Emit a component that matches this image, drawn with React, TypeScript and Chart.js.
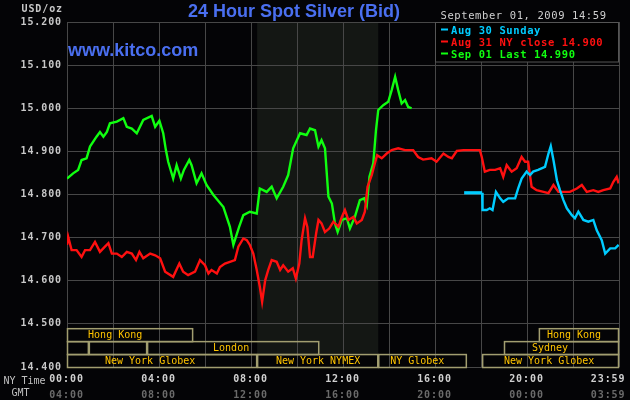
import React, { useEffect, useRef } from 'react';
import { Chart, registerables } from 'chart.js';

Chart.register(...registerables);

// ---- data (x in minutes after 00:00 NY time, y in USD/oz) ----
const SEP01_MIN = [0, 16, 29, 38, 51, 60, 77, 86, 95, 104, 112, 130, 147, 156, 169, 182, 199, 221, 230, 241, 251, 258, 264, 277, 286, 297, 305, 319, 325, 338, 351, 364, 382, 408, 425, 434, 449, 460, 477, 495, 503, 521, 534, 547, 564, 577, 590, 608, 625, 634, 647, 656, 664, 673, 682, 691, 699, 706, 717, 730, 738, 751, 764, 775, 782, 789, 799, 806, 812, 825, 838, 847, 856, 864, 873, 882, 890, 899];
const SEP01_VAL = [14.837, 14.849, 14.857, 14.880, 14.884, 14.911, 14.934, 14.945, 14.934, 14.945, 14.965, 14.969, 14.977, 14.957, 14.953, 14.942, 14.973, 14.982, 14.957, 14.971, 14.942, 14.903, 14.876, 14.837, 14.868, 14.837, 14.857, 14.880, 14.868, 14.826, 14.849, 14.822, 14.799, 14.771, 14.725, 14.683, 14.725, 14.752, 14.760, 14.756, 14.814, 14.806, 14.818, 14.791, 14.818, 14.845, 14.907, 14.942, 14.938, 14.953, 14.949, 14.911, 14.926, 14.907, 14.795, 14.779, 14.733, 14.713, 14.741, 14.745, 14.721, 14.748, 14.787, 14.791, 14.775, 14.841, 14.872, 14.949, 14.996, 15.007, 15.015, 15.042, 15.073, 15.042, 15.011, 15.019, 15.003, 15.000];

const AUG31_MIN = [0, 3, 12, 25, 38, 47, 60, 73, 86, 99, 108, 117, 130, 143, 156, 169, 180, 189, 199, 217, 230, 243, 256, 277, 293, 303, 316, 334, 347, 360, 369, 377, 391, 399, 412, 425, 438, 447, 460, 469, 477, 486, 495, 503, 509, 517, 525, 534, 547, 556, 564, 577, 589, 597, 606, 612, 621, 627, 634, 641, 650, 656, 664, 673, 684, 695, 708, 717, 725, 734, 747, 756, 769, 777, 784, 795, 803, 809, 821, 834, 847, 864, 882, 903, 916, 929, 951, 964, 982, 995, 1004, 1017, 1034, 1077, 1082, 1090, 1103, 1117, 1130, 1138, 1147, 1160, 1173, 1186, 1195, 1203, 1212, 1225, 1243, 1256, 1269, 1282, 1295, 1312, 1330, 1343, 1356, 1373, 1386, 1399, 1417, 1425, 1434, 1439];
const AUG31_VAL = [14.683, 14.702, 14.671, 14.671, 14.655, 14.671, 14.671, 14.690, 14.667, 14.679, 14.687, 14.663, 14.663, 14.655, 14.667, 14.663, 14.648, 14.667, 14.652, 14.663, 14.659, 14.652, 14.621, 14.609, 14.640, 14.621, 14.613, 14.621, 14.648, 14.636, 14.617, 14.625, 14.617, 14.632, 14.640, 14.644, 14.648, 14.679, 14.698, 14.694, 14.683, 14.663, 14.625, 14.586, 14.551, 14.601, 14.625, 14.648, 14.644, 14.625, 14.636, 14.621, 14.629, 14.605, 14.640, 14.694, 14.745, 14.725, 14.655, 14.655, 14.710, 14.741, 14.733, 14.713, 14.721, 14.737, 14.725, 14.748, 14.764, 14.741, 14.748, 14.733, 14.741, 14.760, 14.818, 14.845, 14.872, 14.891, 14.884, 14.895, 14.903, 14.907, 14.903, 14.903, 14.887, 14.881, 14.884, 14.876, 14.895, 14.887, 14.884, 14.901, 14.903, 14.903, 14.887, 14.853, 14.857, 14.857, 14.861, 14.841, 14.868, 14.853, 14.861, 14.887, 14.876, 14.876, 14.818, 14.810, 14.806, 14.803, 14.822, 14.806, 14.806, 14.806, 14.814, 14.822, 14.806, 14.810, 14.806, 14.810, 14.814, 14.829, 14.841, 14.826];

const AUG30_MIN = [1036, 1083, 1084, 1095, 1103, 1110, 1119, 1130, 1138, 1151, 1169, 1177, 1186, 1199, 1208, 1216, 1229, 1247, 1256, 1262, 1269, 1278, 1286, 1295, 1304, 1317, 1325, 1334, 1347, 1360, 1373, 1382, 1395, 1404, 1417, 1430, 1439];
const AUG30_VAL = [14.804, 14.804, 14.764, 14.764, 14.768, 14.764, 14.806, 14.791, 14.783, 14.791, 14.791, 14.814, 14.837, 14.853, 14.845, 14.853, 14.857, 14.864, 14.895, 14.912, 14.880, 14.833, 14.810, 14.787, 14.768, 14.752, 14.745, 14.760, 14.741, 14.737, 14.741, 14.717, 14.694, 14.663, 14.675, 14.675, 14.683];

const SERIES_LABELS = ['Aug 30 Sunday', 'Aug 31 NY close 14.900', 'Sep 01 Last 14.990'];
const SERIES_COLORS = ['#00ccff', '#ff1010', '#10ff10'];

const NY_TICK_LABELS = ['00:00', '04:00', '08:00', '12:00', '16:00', '20:00', '23:59'];
const GMT_TICK_LABELS = ['04:00', '08:00', '12:00', '16:00', '20:00', '00:00', '03:59'];

// market sessions
const SESSION_ROW = [0, 0, 1, 1, 1, 1, 2, 2, 2, 2];
const SESSION_START = [0, 1231, 0, 57, 209, 1140, 0, 496, 812, 1083];
const SESSION_END = [329, 1440, 57, 209, 658, 1440, 496, 812, 1043, 1440];
const SESSION_LABEL = ['Hong Kong', 'Hong Kong', '', '', 'London', 'Sydney', 'New York Globex', 'New York NYMEX', 'NY Globex', 'New York Globex'];
const SESSION_LABEL_AT = [55, 1252, 0, 0, 381, 1213, 99, 545, 843, 1140];
const NYMEX_PIT = [496, 812];

const MONO = '"DejaVu Sans Mono", monospace';
const BG = '#040406';
const GRID = '#474747';

const pts = (xs: number[], ys: number[]) => xs.map((x, i) => ({ x, y: ys[i] }));

const furniture = {
  id: 'furniture',
  beforeDraw(chart: any) {
    const { ctx, chartArea: a, scales } = chart;
    const x = scales.x;
    ctx.save();
    ctx.fillStyle = BG;
    ctx.fillRect(0, 0, chart.width, chart.height);
    const rowH = (a.bottom - a.top) * 0.0375;
    const row3Top = a.bottom - rowH;
    const x0 = x.getPixelForValue(NYMEX_PIT[0]);
    const x1 = x.getPixelForValue(NYMEX_PIT[1]);
    ctx.fillStyle = '#141714';
    ctx.fillRect(x0, a.top, x1 - x0, row3Top - a.top);
    ctx.restore();
    // wide bitmap-like look for the axis tick labels
    (ctx as any).letterSpacing = '0.9px';
  },
  afterDatasetsDraw(chart: any) {
    const { ctx, chartArea: a, scales } = chart;
    const x = scales.x;
    ctx.save();
    const rowH = (a.bottom - a.top) * 0.0375;
    ctx.strokeStyle = '#a29e70';
    ctx.lineWidth = 1.5;
    (ctx as any).letterSpacing = '0px';
    ctx.font = `10px ${MONO}`;
    ctx.textBaseline = 'alphabetic';
    ctx.textAlign = 'left';
    for (let i = 0; i < SESSION_ROW.length; i++) {
      const top = a.bottom - (3 - SESSION_ROW[i]) * rowH;
      const sx = x.getPixelForValue(SESSION_START[i]);
      const ex = x.getPixelForValue(SESSION_END[i]);
      ctx.strokeRect(sx + 0.5, top + 0.5, ex - sx - 1, rowH);
    }
    ctx.fillStyle = '#ffc400';
    for (let i = 0; i < SESSION_ROW.length; i++) {
      if (!SESSION_LABEL[i]) continue;
      const top = a.bottom - (3 - SESSION_ROW[i]) * rowH;
      ctx.fillText(SESSION_LABEL[i], x.getPixelForValue(SESSION_LABEL_AT[i]), top + rowH - 3.5);
    }
    // legend box
    const lx = x.getPixelForValue(960);
    ctx.fillStyle = '#000';
    ctx.fillRect(lx, a.top, a.right - lx, 40);
    ctx.strokeStyle = '#555';
    ctx.lineWidth = 1;
    ctx.strokeRect(lx + 0.5, a.top + 0.5, a.right - lx - 1, 39.5);
    (ctx as any).letterSpacing = '0.6px';
    ctx.font = `bold 10.5px ${MONO}`;
    chart.data.datasets.forEach((ds: any, i: number) => {
      ctx.fillStyle = ds.borderColor;
      const by = a.top + 11.5 + i * 12;
      ctx.fillRect(lx + 6, by - 5, 7, 2);
      ctx.fillText(ds.label, lx + 16, by);
    });
    ctx.restore();
  },
  afterDraw(chart: any) {
    const { ctx, chartArea: a } = chart;
    ctx.save();
    (ctx as any).letterSpacing = '0px';
    ctx.textBaseline = 'alphabetic';
    ctx.fillStyle = '#4a6ff0';
    ctx.font = 'bold 18px "Liberation Sans", Arial, sans-serif';
    ctx.textAlign = 'center';
    ctx.fillText('24 Hour Spot Silver (Bid)', 294, 16.5);
    ctx.textAlign = 'left';
    ctx.fillText('www.kitco.com', a.left + 1, 56);
    (ctx as any).letterSpacing = '0.6px';
    ctx.fillStyle = '#d0d0d0';
    ctx.font = `10.5px ${MONO}`;
    ctx.fillText('September 01, 2009 14:59', 440.5, 18.5);
    (ctx as any).letterSpacing = '0.9px';
    ctx.textAlign = 'right';
    ctx.font = `bold 10px ${MONO}`;
    ctx.fillStyle = '#c8c8c8';
    ctx.fillText('USD/oz', a.left - 4, 12);
    ctx.textAlign = 'left';
    (ctx as any).letterSpacing = '0px';
    ctx.font = `10px ${MONO}`;
    ctx.fillStyle = '#c0c0c0';
    ctx.fillText('NY Time', 3.5, 383.5);
    ctx.fillText('GMT', 11.5, 396);
    ctx.restore();
  },
};

export default function App() {
  const ref = useRef<HTMLCanvasElement>(null);
  useEffect(() => {
    document.body.style.margin = '0';
    document.body.style.background = '#000';
    const canvas = ref.current as HTMLCanvasElement;
    const xTick = (labels: string[]) => (v: any) => {
      const n = Number(v);
      if (n % 240 !== 0) return '';
      const k = n / 240;
      return k === 6 ? labels[k] + '   ' : labels[k];
    };
    const tickFont = { family: MONO, size: 10, weight: 'bold' };
    const chart = new Chart(canvas, {
      type: 'line',
      data: {
        datasets: [
          {
            label: SERIES_LABELS[0],
            data: pts(AUG30_MIN, AUG30_VAL),
            borderColor: SERIES_COLORS[0],
            borderWidth: 2.4,
            pointRadius: 0,
            segment: { borderWidth: (c: any) => (c.p0DataIndex === 0 ? 3.2 : 2.4) },
          },
          {
            label: SERIES_LABELS[1],
            data: pts(AUG31_MIN, AUG31_VAL),
            borderColor: SERIES_COLORS[1],
            borderWidth: 2.4,
            pointRadius: 0,
          },
          {
            label: SERIES_LABELS[2],
            data: pts(SEP01_MIN, SEP01_VAL),
            borderColor: SERIES_COLORS[2],
            borderWidth: 2.4,
            pointRadius: 0,
          },
        ],
      },
      options: {
        animation: false,
        responsive: false,
        events: [],
        layout: { padding: { top: 22, right: 11, left: 0, bottom: 0 } },
        plugins: { legend: { display: false }, tooltip: { enabled: false } },
        scales: {
          x: {
            type: 'linear',
            position: 'bottom',
            weight: 0,
            min: 0,
            max: 1440,
            grid: { color: GRID, lineWidth: 1, drawTicks: false },
            border: { display: false },
            ticks: {
              stepSize: 120,
              autoSkip: false,
              maxRotation: 0,
              padding: 6,
              labelOffset: -0.5,
              color: '#d0d0d0',
              font: tickFont,
              callback: xTick(NY_TICK_LABELS),
            },
            afterFit: (s: any) => {
              s.height = 15;
              s.paddingLeft = 0;
              s.paddingRight = 0;
            },
          },
          x2: {
            type: 'linear',
            axis: 'x',
            position: 'bottom',
            weight: 1,
            min: 0,
            max: 1440,
            grid: { display: false, drawTicks: false },
            border: { display: false },
            ticks: {
              stepSize: 120,
              autoSkip: false,
              maxRotation: 0,
              padding: 7,
              labelOffset: -0.5,
              color: '#6a6a6a',
              font: tickFont,
              callback: xTick(GMT_TICK_LABELS),
            },
            afterFit: (s: any) => {
              s.height = 18;
              s.paddingLeft = 0;
              s.paddingRight = 0;
            },
          },
          y: {
            min: 14.4,
            max: 15.2,
            grid: { color: GRID, lineWidth: 1, drawTicks: false },
            border: { display: false },
            ticks: {
              stepSize: 0.1,
              padding: 5,
              color: '#c8c8c8',
              font: tickFont,
              callback: (v: any) => Number(v).toFixed(3),
            },
            afterFit: (s: any) => {
              s.width = 67;
            },
          },
        },
      },
      plugins: [furniture],
    } as any);
    return () => chart.destroy();
  }, []);
  return (
    <div style={{ position: 'absolute', left: 0, top: 0, width: 630, height: 400, background: '#000' }}>
      <canvas ref={ref} width={630} height={400} style={{ display: 'block', width: 630, height: 400 }} />
    </div>
  );
}
